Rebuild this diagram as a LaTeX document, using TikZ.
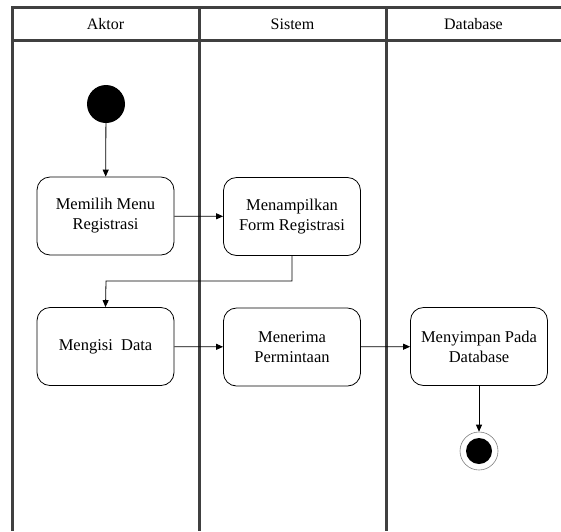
\documentclass[tikz,border=0pt]{standalone}
\usepackage{fontspec}
\setmainfont{Liberation Serif}
\usetikzlibrary{arrows.meta}
\definecolor{lanegray}{HTML}{404040}
\tikzset{
  lane/.style={line width=3pt, draw=lanegray},
  activity/.style={draw, line width=0.8pt, rounded corners=13pt, minimum width=137pt, minimum height=78pt, align=center, inner sep=0pt},
  flow/.style={line width=0.8pt, -{Triangle[length=7pt,width=6pt]}},
  lanehead/.style={anchor=base, font=\fontsize{16}{19}\selectfont}
}
\begin{document}
\begin{tikzpicture}[
  x=1pt, y=-1pt,
  font=\fontsize{16.5}{20}\selectfont
]
\useasboundingbox (0,0) rectangle (561,531);
% swimlanes
\draw [lane] (561,7) -- (12,7) -- (12,531);
\draw [lane] (12,40) -- (561,40);
\draw [lane] (199,7) -- (199,531);
\draw [lane] (386,7) -- (386,531);
\node [lanehead] (aktor) at (105.5,29) {Aktor};
\node [lanehead] (sistem) at (292.5,29) {Sistem};
\node [lanehead] (database) at (473.5,29) {Database};
% start and end
\node [circle, fill=black, minimum size=38pt, inner sep=0pt] (start) at (106,104) {};
\node [circle, draw=gray, line width=0.6pt, minimum size=38pt, inner sep=0pt] (stop) at (479,451) {};
\node [circle, fill=black, minimum size=26pt, inner sep=0pt] (stopdot) at (stop) {};
% activities
\node [activity] (menu) at (105.5,216) {Memilih Menu\\Registrasi};
\node [activity] (form) at (292,216.5) {Menampilkan\\Form Registrasi};
\node [activity] (isi) at (105.5,346.5) {Mengisi~~Data};
\node [activity] (terima) at (292,347) {Menerima\\Permintaan};
\node [activity] (simpan) at (479,346.5) {Menyimpan Pada\\Database};
\coordinate (bend) at (106,281);
% flows
\draw [flow] (start) -- (menu);
\draw [flow] (menu) -- (form);
\draw [flow] (form.south) |- (bend) -- (isi.north);
\draw [flow] (isi) -- (terima);
\draw [flow] (terima) -- (simpan);
\draw [flow] (simpan) -- (stop);
\end{tikzpicture}
\end{document}
